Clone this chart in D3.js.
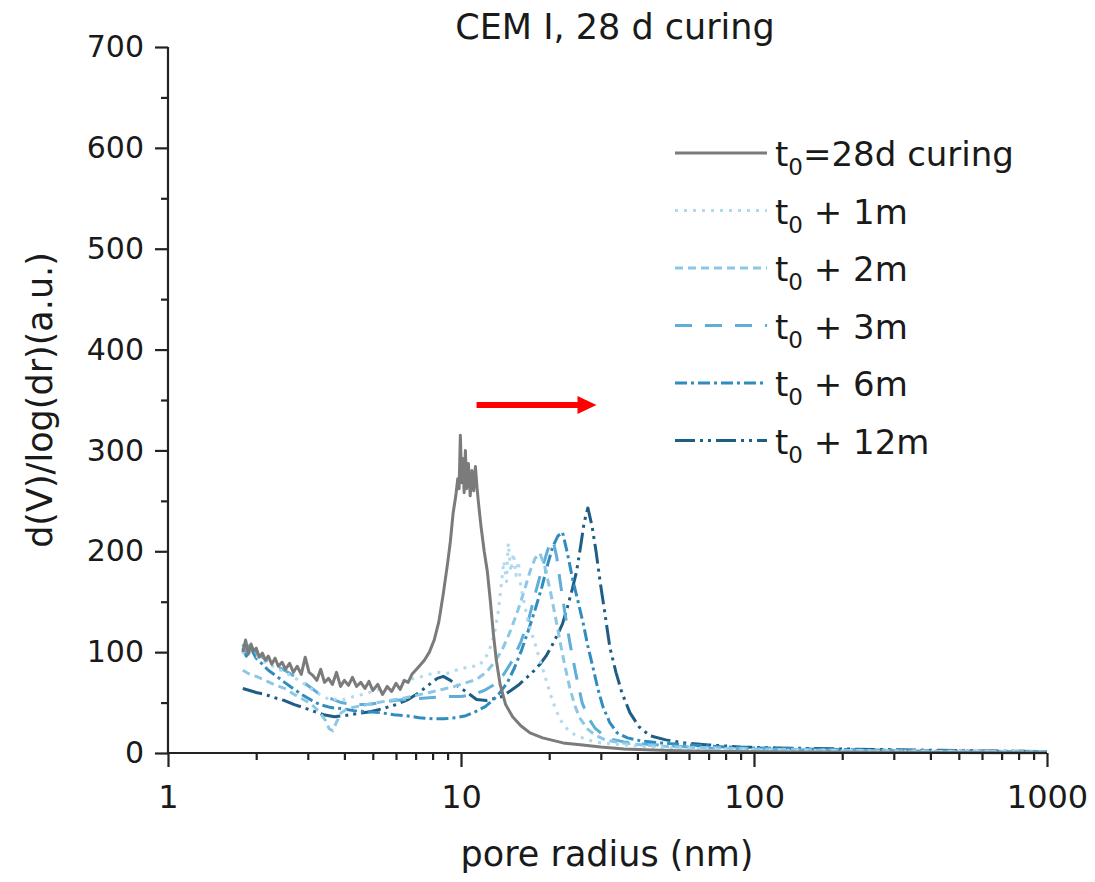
<!DOCTYPE html>
<html>
<head>
<meta charset="utf-8">
<script src="https://cdn.jsdelivr.net/npm/d3@7/dist/d3.min.js"></script>
<style>
  html, body { margin: 0; padding: 0; background: #fff; }
  svg { display: block; }
</style>
</head>
<body>
<svg id="chart" width="1095" height="882"></svg>
<script>
// ---------------- DATA ----------------
const chartTitle = "CEM I, 28 d curing";
const xTitle = "pore radius (nm)";
const yTitle = "d(V)/log(dr)(a.u.)";
const xTickValues = [1, 10, 100, 1000];
const xTickLabels = ["1", "10", "100", "1000"];
const yTickValues = [0, 100, 200, 300, 400, 500, 600, 700];
const yTickLabels = ["0", "100", "200", "300", "400", "500", "600", "700"];
const seriesNames = ["=28d curing", " + 1m", " + 2m", " + 3m", " + 6m", " + 12m"];

// [pore radius (nm), d(V)/log(dr)]
const t0 = [[1.80,100],[1.84,112],[1.88,98],[1.92,108],[1.96,101],[2.0,104],[2.05,95],[2.1,99],[2.15,92],[2.2,96],[2.26,88],[2.32,94],[2.38,86],[2.45,90],[2.52,83],[2.6,89],[2.68,80],[2.76,86],[2.85,78],[2.94,95],[3.03,80],[3.12,77],[3.22,72],[3.32,83],[3.42,70],[3.53,74],[3.64,68],[3.76,80],[3.88,66],[4.0,72],[4.13,67],[4.26,75],[4.4,66],[4.55,70],[4.7,64],[4.85,71],[5.0,62],[5.2,68],[5.4,58],[5.6,66],[5.8,61],[6.0,69],[6.2,63],[6.4,72],[6.6,70],[6.8,78],[7.0,82],[7.2,86],[7.5,92],[7.8,100],[8.1,112],[8.4,130],[8.7,158],[9.0,188],[9.2,210],[9.4,238],[9.6,255],[9.75,272],[9.85,262],[9.95,315],[10.05,268],[10.15,292],[10.25,258],[10.35,300],[10.45,262],[10.6,287],[10.75,255],[10.9,280],[11.05,260],[11.2,284],[11.35,262],[11.5,245],[11.7,225],[12.0,200],[12.3,180],[12.6,150],[12.9,118],[13.2,92],[13.6,68],[14.2,48],[15.0,36],[16.0,27],[17.2,20],[19,15],[22.3,10],[26,8],[30,6],[36,4],[45,3],[60,2],[80,1.5],[120,1],[200,0.8],[400,0.5],[1000,0.3]];
const m1 = [[1.8,98],[1.85,108],[1.9,100],[2.0,96],[2.1,92],[2.2,88],[2.35,84],[2.5,80],[2.65,76],[2.8,72],[3.0,66],[3.2,60],[3.4,56],[3.6,52],[3.8,54],[4.0,53],[4.3,56],[4.6,58],[5.0,61],[5.4,64],[5.8,66],[6.2,70],[6.7,73],[7.2,75],[7.8,78],[8.4,80],[9.0,79],[9.6,82],[10.2,84],[10.8,86],[11.4,86],[12.0,92],[12.5,102],[13.0,118],[13.4,140],[13.7,165],[14.0,190],[14.3,170],[14.5,208],[14.8,180],[15.1,198],[15.4,176],[15.7,190],[16.0,165],[16.4,150],[17.0,128],[17.9,108],[18.6,92],[19.4,75],[20.5,52],[21.8,33],[23,24],[24.5,18],[27,13],[30,10],[36,8],[44,6],[55,5],[70,4],[100,3],[150,2.5],[250,2],[400,1.5],[700,1.2],[1000,1]];
const m2 = [[1.8,82],[1.9,78],[2.0,76],[2.15,72],[2.3,68],[2.5,64],[2.7,58],[2.9,53],[3.1,48],[3.3,40],[3.45,32],[3.55,24],[3.65,22],[3.75,30],[3.9,40],[4.1,44],[4.4,46],[4.8,48],[5.2,50],[5.7,52],[6.3,54],[7.0,57],[7.8,60],[8.6,63],[9.5,66],[10.5,70],[11.3,73],[12.2,80],[13.0,90],[13.8,102],[14.6,118],[15.5,138],[16.4,160],[17.2,180],[17.9,193],[18.6,198],[19.3,185],[20.2,160],[21.0,135],[21.8,110],[22.6,87],[23.5,65],[24.4,48],[25.4,35],[27,24],[28.6,18],[31,13],[35,10],[42,8],[55,6],[75,5],[100,4],[160,3],[300,2],[600,1.5],[1000,1]];
const m3 = [[1.8,108],[1.85,100],[1.9,110],[2.0,98],[2.1,95],[2.2,90],[2.35,86],[2.5,82],[2.7,76],[2.9,70],[3.1,64],[3.3,58],[3.6,54],[3.9,50],[4.3,48],[4.8,48],[5.3,50],[5.9,52],[6.5,53],[7.2,54],[8.0,55],[9.0,56],[10.0,56],[11.0,58],[12.0,62],[13.0,68],[14.0,78],[15.0,92],[16.0,110],[17.0,132],[18.0,160],[19.0,185],[19.8,202],[20.6,211],[21.2,195],[21.8,170],[22.6,140],[23.5,110],[24.6,80],[25.9,50],[27.2,35],[28.6,25],[30.5,18],[32.2,14],[36,11],[42,9],[52,7],[70,5],[100,4],[160,3],[300,2.2],[600,1.5],[1000,1.2]];
const m6 = [[1.8,104],[1.85,96],[1.9,106],[2.0,94],[2.1,88],[2.2,82],[2.35,76],[2.5,70],[2.7,63],[2.9,57],[3.1,52],[3.3,48],[3.6,45],[3.9,44],[4.3,42],[4.8,41],[5.3,40],[5.9,38],[6.5,37],[7.2,35],[8.0,34],[8.8,34],[9.6,35],[10.4,37],[11.2,41],[12.1,46],[12.9,53],[13.6,60],[14.4,70],[15.2,84],[16.1,102],[17.0,122],[17.9,142],[18.9,165],[19.8,188],[20.6,205],[21.4,215],[22.2,219],[23.0,200],[24.1,171],[25.1,150],[26.1,129],[27.1,106],[28.2,85],[29.3,64],[30.5,46],[32.2,30],[34.1,20],[37,15],[41,12],[48,10],[60,8],[80,6],[100,5],[150,4],[250,3],[450,2],[1000,1.5]];
const m12 = [[1.8,64],[1.9,62],[2.0,60],[2.15,58],[2.3,55],[2.5,52],[2.7,48],[2.9,45],[3.1,42],[3.4,38],[3.7,36],[4.0,37],[4.4,39],[4.9,41],[5.4,44],[6.0,48],[6.6,53],[7.2,60],[7.8,68],[8.3,74],[8.7,76],[9.2,72],[9.8,66],[10.5,60],[11.3,53],[12.2,52],[13.0,54],[13.8,56],[14.8,62],[15.8,68],[16.8,75],[17.8,82],[18.6,88],[19.5,96],[20.4,106],[21.4,118],[22.2,128],[23.1,145],[24.0,163],[24.8,180],[25.6,205],[26.3,228],[27.1,243],[28.0,225],[28.9,200],[29.8,171],[31.0,138],[32.2,105],[33.8,80],[35.4,60],[37.7,40],[40.5,26],[44.2,17],[50,13],[58,10],[70,8],[90,6],[120,5],[200,4],[350,3],[600,2],[1000,1.5]];
const seriesData = [t0, m1, m2, m3, m6, m12];

// arrow annotation (data coordinates)
const arrowFrom = [11.3, 345];
const arrowTo = [29.0, 345];

// ---------------- STYLE ----------------
const colors = ["#7b7b7b", "#aed9ef", "#8cc8e5", "#5eaed8", "#2f8cbf", "#1f5e84"];
const dashes = [null, "3,6", "8,5", "17,13", "12,4,3,4", "20,5,3,5,3,5"];
const widths = [3, 3, 3, 3, 3, 3];

const W = 1095, H = 882;
const margin = {left: 168, right: 48, top: 47, bottom: 129};
const svg = d3.select("#chart");
const FONT = "'DejaVu Sans', sans-serif";

const x = d3.scaleLog().domain([1, 1000]).range([margin.left, W - margin.right]);
const y = d3.scaleLinear().domain([0, 700]).range([H - margin.bottom, margin.top]);

// curves
const line = d3.line().x(d => x(d[0])).y(d => y(d[1])).curve(d3.curveLinear);
const plot = svg.append("g");
const order = [5, 4, 3, 2, 1, 0];
order.forEach(i => {
  plot.append("path")
    .datum(seriesData[i])
    .attr("fill", "none")
    .attr("stroke", colors[i])
    .attr("stroke-width", widths[i])
    .attr("stroke-linejoin", "round")
    .attr("stroke-dasharray", dashes[i])
    .attr("d", line);
});

// axes
const xMinor = [];
[1, 10, 100].forEach(dec => { for (let k = 2; k <= 9; k++) xMinor.push(dec * k); });
const xAxisMinor = d3.axisBottom(x).tickValues(xMinor).tickSize(7).tickFormat("");
const xAxis = d3.axisBottom(x).tickValues(xTickValues).tickSize(14).tickFormat((d, i) => xTickLabels[i]).tickPadding(18);
const yMinorVals = d3.range(50, 700, 100);
const yAxisMinor = d3.axisLeft(y).tickValues(yMinorVals).tickSize(7).tickFormat("");
const yAxis = d3.axisLeft(y).tickValues(yTickValues).tickSize(13).tickFormat((d, i) => yTickLabels[i]).tickPadding(11);

function styleAxis(g) {
  g.select(".domain").attr("stroke", "#222").attr("stroke-width", 2.2);
  g.selectAll(".tick line").attr("stroke", "#222").attr("stroke-width", 2.2);
  g.selectAll(".tick text").attr("fill", "#1a1a1a").style("font-family", FONT);
}
const gx = svg.append("g").attr("transform", `translate(0,${y(0)})`);
gx.append("g").call(xAxisMinor).call(styleAxis).select(".domain").remove();
const gxMain = gx.append("g").call(xAxis).call(styleAxis);
gxMain.selectAll(".domain").attr("d", `M${x(1)},0H${x(1000)}`);
gxMain.selectAll(".tick text").style("font-size", "32px");

const gy = svg.append("g").attr("transform", `translate(${x(1)},0)`);
gy.append("g").call(yAxisMinor).call(styleAxis).select(".domain").remove();
const gyMain = gy.append("g").call(yAxis).call(styleAxis);
gyMain.selectAll(".domain").attr("d", `M0,${y(700)}V${y(0)}`);
gyMain.selectAll(".tick text").style("font-size", "30px");

// titles
svg.append("text")
  .attr("x", 615).attr("y", 39)
  .attr("text-anchor", "middle")
  .style("font-family", FONT).style("font-size", "35px").attr("fill", "#1a1a1a")
  .text(chartTitle);
svg.append("text")
  .attr("x", 607).attr("y", 866)
  .attr("text-anchor", "middle")
  .style("font-family", FONT).style("font-size", "35px").attr("fill", "#1a1a1a")
  .text(xTitle);
svg.append("text")
  .attr("transform", `translate(52,400) rotate(-90)`)
  .attr("text-anchor", "middle")
  .style("font-family", FONT).style("font-size", "35px").attr("fill", "#1a1a1a")
  .text(yTitle);

// legend
const legendX0 = 675, legendX1 = 767, legendTextX = 775, legendY0 = 153, legendDY = 57.5;
const lg = svg.append("g");
seriesNames.forEach((name, i) => {
  const yy = legendY0 + i * legendDY;
  lg.append("line")
    .attr("x1", legendX0).attr("x2", legendX1).attr("y1", yy).attr("y2", yy)
    .attr("stroke", colors[i]).attr("stroke-width", widths[i])
    .attr("stroke-dasharray", dashes[i]);
  const t = lg.append("text")
    .attr("x", legendTextX).attr("y", yy + 13)
    .style("font-family", FONT).style("font-size", "34px").attr("fill", "#1a1a1a");
  t.append("tspan").text("t");
  t.append("tspan").attr("dy", 9).style("font-size", "23px").text("0");
  t.append("tspan").attr("dy", -9).text(name);
});

// red arrow
const ax0 = x(arrowFrom[0]), ax1 = x(arrowTo[0]), ay = y(arrowFrom[1]);
svg.append("line")
  .attr("x1", ax0).attr("x2", ax1 - 16).attr("y1", ay).attr("y2", ay)
  .attr("stroke", "#ff0000").attr("stroke-width", 6);
svg.append("path")
  .attr("d", `M${ax1},${ay} L${ax1 - 19},${ay - 9} L${ax1 - 19},${ay + 9} Z`)
  .attr("fill", "#ff0000");
</script>
</body>
</html>
